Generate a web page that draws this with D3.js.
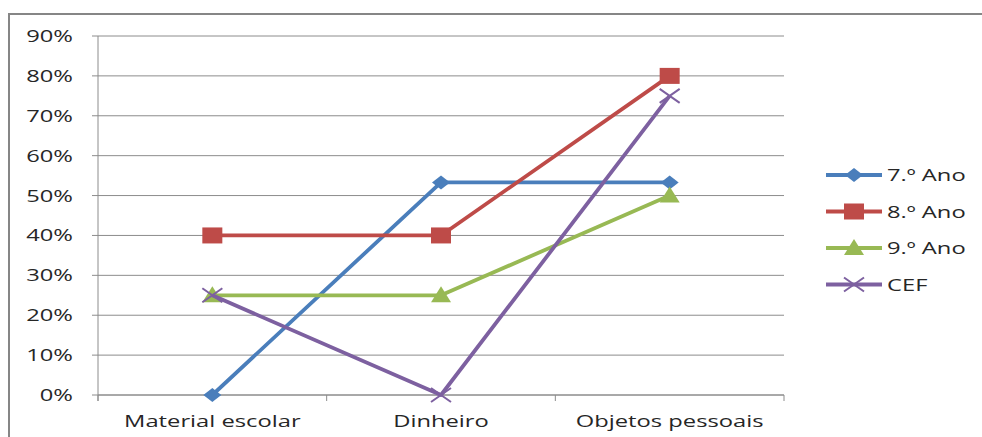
<!DOCTYPE html>
<html>
<head>
<meta charset="utf-8">
<script src="https://cdn.jsdelivr.net/npm/d3@7"></script>
<style>
  html, body { margin: 0; padding: 0; background: #fff; }
  svg { display: block; }
  text { font-family: "Open Sans", "DejaVu Sans", sans-serif; fill: #262626; }
</style>
</head>
<body>
<svg id="chart" width="982" height="437"></svg>
<script>
const categories = ["Material escolar", "Dinheiro", "Objetos pessoais"];
const seriesNames = ["7.º Ano", "8.º Ano", "9.º Ano", "CEF"];
const ano7 = [0, 0.533, 0.533];
const ano8 = [0.40, 0.40, 0.80];
const ano9 = [0.25, 0.25, 0.50];
const cef = [0.25, 0, 0.75];
const yTicks = [0, 0.1, 0.2, 0.3, 0.4, 0.5, 0.6, 0.7, 0.8, 0.9];

const colors = ["#4a7ebb", "#be4b48", "#98b954", "#7d60a0"];
const markers = ["diamond", "square", "triangle", "cross"];
const series = [ano7, ano8, ano9, cef].map((v, i) => ({
  name: seriesNames[i], values: v, color: colors[i], marker: markers[i]
}));

const FONT = 16.5;      // label font size
const STRETCH = 1.44;   // horizontal widening of all labels

const svg = d3.select("#chart");

// places a widened label anchored at (px, py)
function label(g, px, py, str, anchor) {
  return g.append("text")
    .attr("transform", `translate(${px},${py}) scale(${STRETCH},1)`)
    .attr("text-anchor", anchor)
    .style("font-size", FONT + "px")
    .text(str);
}

// outer chart frame
svg.append("rect")
  .attr("x", 9).attr("y", 14).attr("width", 990).attr("height", 440)
  .attr("fill", "none").attr("stroke", "#868686").attr("stroke-width", 2);

const plot = { left: 98, right: 784, top: 36, bottom: 395 };

const x = d3.scaleBand().domain(categories).range([plot.left, plot.right]);
const y = d3.scaleLinear().domain([0, 0.9]).range([plot.bottom, plot.top]);
const pct = d3.format(".0%");

// horizontal gridlines
svg.append("g").selectAll("line").data(yTicks).join("line")
  .attr("x1", plot.left - 6).attr("x2", plot.right)
  .attr("y1", d => y(d)).attr("y2", d => y(d))
  .attr("stroke", "#8c8c8c").attr("stroke-width", 1);

// y axis line and labels
svg.append("line").attr("x1", plot.left).attr("x2", plot.left)
  .attr("y1", plot.top).attr("y2", plot.bottom + 6)
  .attr("stroke", "#8c8c8c");
const yLab = svg.append("g");
yTicks.forEach(t => label(yLab, 73, y(t) + 6, pct(t), "end"));

// x axis with boundary tick marks between categories
const xAxisG = svg.append("g").attr("transform", `translate(0,${plot.bottom})`);
xAxisG.append("line").attr("x1", plot.left).attr("x2", plot.right)
  .attr("stroke", "#8c8c8c");
const bounds = categories.map(c => x(c)).concat([x(categories[categories.length - 1]) + x.bandwidth()]);
xAxisG.selectAll("line.tk").data(bounds).join("line").attr("class", "tk")
  .attr("x1", d => d).attr("x2", d => d).attr("y1", 0).attr("y2", 6)
  .attr("stroke", "#8c8c8c");
categories.forEach(c => label(xAxisG, x(c) + x.bandwidth() / 2, 32, c, "middle"));

const cx = c => x(c) + x.bandwidth() / 2;

const line = d3.line().x((d, i) => cx(categories[i])).y(d => y(d));

function drawMarker(g, type, color, px, py) {
  if (type === "diamond") {
    g.append("path").attr("d", `M${px},${py - 7}L${px + 9},${py}L${px},${py + 7}L${px - 9},${py}Z`)
      .attr("fill", color);
  } else if (type === "square") {
    g.append("rect").attr("x", px - 10).attr("y", py - 8).attr("width", 20).attr("height", 16)
      .attr("fill", color);
  } else if (type === "triangle") {
    g.append("path").attr("d", `M${px},${py - 9}L${px + 10},${py + 7}L${px - 10},${py + 7}Z`)
      .attr("fill", color);
  } else {
    g.append("path").attr("d", `M${px - 10},${py - 7}L${px + 10},${py + 7}M${px - 10},${py + 7}L${px + 10},${py - 7}`)
      .attr("stroke", color).attr("stroke-width", 2).attr("fill", "none");
  }
}

series.forEach(s => {
  const g = svg.append("g");
  g.append("path").datum(s.values).attr("d", line)
    .attr("fill", "none").attr("stroke", s.color).attr("stroke-width", 3.8)
    .attr("stroke-linejoin", "round");
  s.values.forEach((v, i) => drawMarker(g, s.marker, s.color, cx(categories[i]), y(v)));
});

// legend
const legend = svg.append("g");
series.forEach((s, i) => {
  const ly = 175 + i * 36.5;
  const g = legend.append("g");
  g.append("line").attr("x1", 826).attr("x2", 882).attr("y1", ly).attr("y2", ly)
    .attr("stroke", s.color).attr("stroke-width", 3.8);
  drawMarker(g, s.marker, s.color, 854, ly);
  label(g, 887, ly + 6, s.name, "start");
});
</script>
</body>
</html>
